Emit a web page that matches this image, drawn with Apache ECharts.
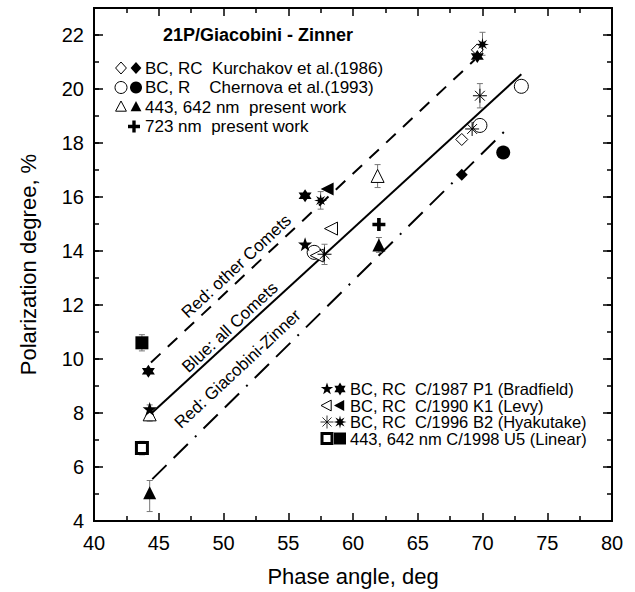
<!DOCTYPE html>
<html><head><meta charset="utf-8">
<script src="https://cdn.jsdelivr.net/npm/echarts@6/dist/echarts.min.js"></script>
<style>html,body{margin:0;padding:0;background:#fff}#c{width:635px;height:592px}</style>
</head><body><div id="c"></div>
<script>
// ---------------- DATA ----------------
const xTickLabels = [40, 45, 50, 55, 60, 65, 70, 75, 80];
const yTickLabels = [4, 6, 8, 10, 12, 14, 16, 18, 20, 22];

// [phase angle (deg), polarization (%)]
const kurchakovBC = [[68.4, 18.13], [69.6, 21.45]];          // open diamond
const kurchakovRC = [[68.4, 16.82]];                          // filled diamond
const chernovaBC  = [[57.0, 13.95], [69.8, 18.65], [73.0, 20.1]]; // open circle
const chernovaR   = [[71.6, 17.65]];                          // filled circle
const presentBC   = [[44.3, 7.95], [61.9, 16.78]];            // open triangle (443 nm)
const presentRC   = [[44.3, 5.05], [62.0, 14.22]];            // filled triangle (642 nm)
const present723  = [[62.0, 14.98]];                          // cross (723 nm)
const bradfieldBC = [[44.3, 8.15], [56.3, 14.25]];            // 5-point star
const bradfieldRC = [[44.2, 9.55], [56.3, 16.05], [69.6, 21.2]]; // 6-point star
const levyBC      = [[57.2, 13.83], [58.3, 14.83]];           // open left triangle
const levyRC      = [[58.0, 16.3]];                           // filled left triangle
const hyakutakeBC = [[57.8, 13.88], [69.2, 18.52], [69.8, 19.75]]; // open burst
const hyakutakeRC = [[57.5, 15.87], [70.0, 21.65]];           // filled asterisk
const linearBC    = [[43.7, 6.7]];                            // open square
const linearRC    = [[43.7, 10.6]];                           // filled square

// error bars: [x, low, high]
const errorBars = [
  [43.7, 10.3, 10.9], [43.7, 6.45, 6.95], [44.3, 4.35, 5.5], [44.3, 7.7, 8.3],
  [61.9, 16.35, 17.2], [62.0, 13.95, 14.5], [57.5, 15.55, 16.2], [57.8, 13.5, 14.25],
  [69.8, 19.3, 20.2], [70.0, 21.25, 22.1]
];

// fitted lines (end points)
const lineRedOther = [[44.4, 9.87], [69.4, 21.08]];
const lineBlueAll  = [[44.0, 7.8], [73.0, 20.55]];
const lineRedGZ    = [[44.5, 5.55], [71.7, 18.43]];

// rotated line labels: [x, y, text]
const lineLabels = [
  [51.0, 13.43, 'Red: other Comets'],
  [50.5, 11.17, 'Blue: all Comets'],
  [51.1, 9.63, 'Red: Giacobini-Zinner']
];

const titleText = '21P/Giacobini - Zinner';
const legendTop = [
  ['diamond', 'BC, RC  Kurchakov et al.(1986)'],
  ['circle', 'BC, R    Chernova et al.(1993)'],
  ['triUp', '443, 642 nm  present work'],
  ['plus', '723 nm  present work']
];
const legendBottom = [
  ['star', 'BC, RC  C/1987 P1 (Bradfield)'],
  ['triLeft', 'BC, RC  C/1990 K1 (Levy)'],
  ['burst', 'BC, RC  C/1996 B2 (Hyakutake)'],
  ['square', '443, 642 nm C/1998 U5 (Linear)']
];

// ---------------- SHAPES (unit box -10..10) ----------------
function starPts(n, rOut, rIn) {
  const pts = [];
  for (let i = 0; i < 2 * n; i++) {
    const r = i % 2 ? rIn : rOut;
    const a = -Math.PI / 2 + i * Math.PI / n;
    pts.push([r * Math.cos(a), r * Math.sin(a)]);
  }
  return pts;
}
const SH = {
  diamond: [[0, -10], [9, 0], [0, 10], [-9, 0]],
  triUp: [[0, -10], [9, 7], [-9, 7]],
  triLeft: [[-10, 0], [7, -9], [7, 9]],
  square: [[-10, -10], [10, -10], [10, 10], [-10, 10]],
  plus: [[-2.8, -10], [2.8, -10], [2.8, -2.8], [10, -2.8], [10, 2.8], [2.8, 2.8], [2.8, 10], [-2.8, 10], [-2.8, 2.8], [-10, 2.8], [-10, -2.8], [-2.8, -2.8]],
  star5: starPts(5, 10, 4),
  star6: starPts(6, 10, 5.8),
  star8: starPts(8, 10, 4)
};
const BURST_LINES = [[-10, 0, 10, 0], [0, -10, 0, 10], [-7, -7, 7, 7], [-7, 7, 7, -7]];
function toPath(pts) {
  return 'path://' + pts.map((p, i) => (i ? 'L' : 'M') + p[0].toFixed(2) + ',' + p[1].toFixed(2)).join(' ') + ' Z';
}
const BURST_PATH = 'path://' + BURST_LINES.map(l => 'M' + l[0] + ',' + l[1] + ' L' + l[2] + ',' + l[3]).join(' ');

const OPEN = { color: '#fff', borderColor: '#000', borderWidth: 1, opacity: 1 };
const FILL = { color: '#000', borderColor: '#000', borderWidth: 0, opacity: 1 };
const LINEONLY = { color: 'rgba(0,0,0,0)', borderColor: '#000', borderWidth: 1, opacity: 1 };
const BOLDOPEN = { color: '#fff', borderColor: '#000', borderWidth: 3, opacity: 1 };

function scatter(name, data, symbol, size, style, rot) {
  return {
    type: 'scatter', name, data, symbol, symbolSize: size, symbolRotate: rot || 0,
    itemStyle: style, z: 5, silent: true, emphasis: { disabled: true }
  };
}

const FONT = '"Liberation Sans", Arial, Helvetica, sans-serif';

// legend graphics
function gPoly(pts, cx, cy, s, st) {
  const k = s / 20;
  return {
    type: 'polygon',
    shape: { points: pts.map(p => [cx + p[0] * k, cy + p[1] * k]) },
    style: { fill: st.color, stroke: st.borderWidth ? st.borderColor : null, lineWidth: st.borderWidth }
  };
}
function gCircle(cx, cy, s, st) {
  return { type: 'circle', shape: { cx, cy, r: s / 2 },
    style: { fill: st.color, stroke: st.borderWidth ? st.borderColor : null, lineWidth: st.borderWidth } };
}
function gBurst(cx, cy, s) {
  const k = s / 20;
  return { type: 'group', children: BURST_LINES.map(l => ({
    type: 'line', shape: { x1: cx + l[0] * k, y1: cy + l[1] * k, x2: cx + l[2] * k, y2: cy + l[3] * k },
    style: { stroke: '#000', lineWidth: 0.8 } })) };
}
function gText(text, x, y, size) {
  return { type: 'text', x, y, style: { text, font: size + 'px ' + FONT, fill: '#000', verticalAlign: 'middle', align: 'left' } };
}
function legendSym(kind, which, cx, cy) {
  switch (kind) {
    case 'diamond': return gPoly(SH.diamond, cx, cy, 12, which ? FILL : OPEN);
    case 'circle': return gCircle(cx, cy, 12, which ? FILL : OPEN);
    case 'triUp': return gPoly(SH.triUp, cx, cy, 12, which ? FILL : OPEN);
    case 'plus': return which ? gPoly(SH.plus, cx, cy, 12, FILL) : null;
    case 'star': return which ? gPoly(SH.star6, cx, cy, 13, FILL) : gPoly(SH.star5, cx, cy, 13, FILL);
    case 'triLeft': return gPoly(SH.triLeft, cx, cy, 12, which ? FILL : OPEN);
    case 'burst': return which ? gPoly(SH.star8, cx, cy, 13, FILL) : gBurst(cx, cy, 13);
    case 'square': return which ? gPoly(SH.square, cx, cy, 12, FILL) : gPoly(SH.square, cx, cy, 10, BOLDOPEN);
  }
}
const graphics = [];
graphics.push({ type: 'text', x: 258, y: 35, style: { text: titleText, font: 'bold 18px ' + FONT, fill: '#000', align: 'center', verticalAlign: 'middle' } });
legendTop.forEach((row, i) => {
  const y = 68 + i * 19.5;
  const a = legendSym(row[0], 0, 121, y);
  if (a) graphics.push(a);
  graphics.push(legendSym(row[0], 1, row[0] === 'plus' ? 134 : 136, y));
  graphics.push(gText(row[1], 145, y, 17));
});
legendBottom.forEach((row, i) => {
  const y = 389 + i * 16.5;
  graphics.push(legendSym(row[0], 0, 327, y));
  graphics.push(legendSym(row[0], 1, 340, y));
  graphics.push(gText(row[1], 350, y, 16.5));
});

// ---------------- AXES ----------------
const axisLineStyle = { color: '#000', width: 2 };
function xAx(pos, showLabel) {
  return {
    type: 'value', min: 40, max: 80, interval: 5, position: pos, gridIndex: 0,
    axisLine: { show: true, onZero: false, lineStyle: axisLineStyle },
    axisTick: { show: true, inside: true, length: 8, lineStyle: { color: '#000', width: 1.5 } },
    minorTick: { show: true, splitNumber: 2, length: 5, lineStyle: { color: '#000', width: 1.5 } },
    splitLine: { show: false }, minorSplitLine: { show: false },
    axisLabel: { show: showLabel, fontSize: 20, color: '#000', fontFamily: FONT, margin: 12,
      formatter: v => (xTickLabels.indexOf(v) >= 0 ? String(v) : '') },
    name: showLabel ? 'Phase angle, deg' : '', nameLocation: 'middle', nameGap: 44,
    nameTextStyle: { fontSize: 22, color: '#000', fontFamily: FONT }
  };
}
function yAx(pos, major, showLabel) {
  return {
    type: 'value', min: 4, max: 23, interval: major ? 2 : 1, position: pos, gridIndex: 0,
    axisLine: { show: true, onZero: false, lineStyle: axisLineStyle },
    axisTick: { show: true, inside: true, length: major ? 9 : 5, lineStyle: { color: '#000', width: 1.5 } },
    splitLine: { show: false },
    axisLabel: { show: showLabel, fontSize: 20, color: '#000', fontFamily: FONT, margin: 10,
      formatter: v => (yTickLabels.indexOf(v) >= 0 ? String(v) : '') },
    name: showLabel ? 'Polarization degree, %' : '', nameLocation: 'middle', nameGap: 55,
    nameTextStyle: { fontSize: 22, color: '#000', fontFamily: FONT }
  };
}

const chart = echarts.init(document.getElementById('c'), null, { renderer: 'svg' });
chart.setOption({
  animation: false,
  backgroundColor: '#fff',
  grid: { left: 94, right: 23, top: 8, bottom: 66 },
  xAxis: [xAx('bottom', true), xAx('top', false)],
  yAxis: [yAx('left', true, true), yAx('left', false, false), yAx('right', true, false), yAx('right', false, false)],
  graphic: graphics,
  series: [
    { type: 'line', data: lineRedOther, symbol: 'none', silent: true, z: 2, lineStyle: { color: '#000', width: 2, type: [13, 10] } },
    { type: 'line', data: lineBlueAll, symbol: 'none', silent: true, z: 2, lineStyle: { color: '#000', width: 2 } },
    { type: 'line', data: lineRedGZ, symbol: 'none', silent: true, z: 2, lineStyle: { color: '#000', width: 2, type: [20, 10, 20, 10, 2, 10] } },
    {
      type: 'custom', data: errorBars, silent: true, z: 3,
      renderItem: (params, api) => {
        const x = api.value(0);
        const lo = api.coord([x, api.value(1)]);
        const hi = api.coord([x, api.value(2)]);
        const w = 3;
        const st = { stroke: '#777', lineWidth: 1 };
        return { type: 'group', children: [
          { type: 'line', shape: { x1: lo[0], y1: lo[1], x2: hi[0], y2: hi[1] }, style: st },
          { type: 'line', shape: { x1: lo[0] - w, y1: lo[1], x2: lo[0] + w, y2: lo[1] }, style: st },
          { type: 'line', shape: { x1: hi[0] - w, y1: hi[1], x2: hi[0] + w, y2: hi[1] }, style: st }
        ] };
      }
    },
    scatter('Kurchakov BC', kurchakovBC, toPath(SH.diamond), 12, OPEN),
    scatter('Kurchakov RC', kurchakovRC, toPath(SH.diamond), 12, FILL),
    scatter('Chernova BC', chernovaBC, 'circle', 14, OPEN),
    scatter('Chernova R', chernovaR, 'circle', 14, FILL),
    scatter('443 nm', presentBC, toPath(SH.triUp), 13, OPEN),
    scatter('642 nm', presentRC, toPath(SH.triUp), 13, FILL),
    scatter('723 nm', present723, toPath(SH.plus), 13, FILL),
    scatter('Bradfield BC', bradfieldBC, toPath(SH.star5), 14, FILL),
    scatter('Bradfield RC', bradfieldRC, toPath(SH.star6), 13, FILL),
    scatter('Levy BC', levyBC, toPath(SH.triLeft), 13, OPEN),
    scatter('Levy RC', levyRC, toPath(SH.triLeft), 13, FILL),
    scatter('Hyakutake BC', hyakutakeBC, BURST_PATH, 14, LINEONLY),
    scatter('Hyakutake RC', hyakutakeRC, toPath(SH.star8), 13, FILL),
    scatter('Linear BC', linearBC, toPath(SH.square), 11, BOLDOPEN),
    scatter('Linear RC', linearRC, toPath(SH.square), 13, FILL),
    {
      type: 'scatter', data: lineLabels, symbolSize: 0, silent: true, z: 6,
      itemStyle: { opacity: 1 },
      label: { show: true, position: 'inside', rotate: 43, fontSize: 17, color: '#000', opacity: 1, fontFamily: FONT,
        formatter: p => p.data[2] }
    }
  ]
});
</script>
</body></html>
